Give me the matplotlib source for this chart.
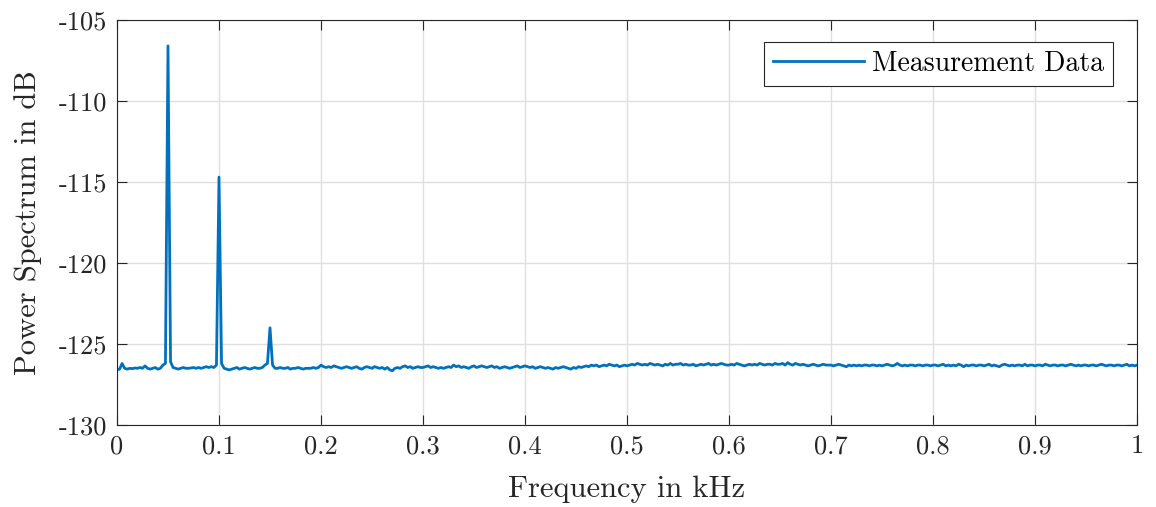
import numpy as np
import matplotlib
matplotlib.use("Agg")
import matplotlib.pyplot as plt

# Power spectrum samples (dB), 0 .. 1 kHz in steps of 0.0025 kHz
power_db = [
    -126.6, -126.55, -126.2, -126.5, -126.55, -126.5, -126.52, -126.48, -126.5, -126.45,
    -126.5, -126.35, -126.5, -126.55, -126.5, -126.45, -126.55, -126.5, -126.3, -126.2,
    -106.6, -126.1, -126.45, -126.5, -126.55, -126.5, -126.45, -126.5, -126.5, -126.48,
    -126.45, -126.5, -126.45, -126.5, -126.45, -126.4, -126.45, -126.4, -126.45, -126.3,
    -114.7, -126.2, -126.5, -126.55, -126.6, -126.55, -126.5, -126.45, -126.55, -126.5,
    -126.45, -126.5, -126.55, -126.5, -126.45, -126.5, -126.5, -126.45, -126.3, -126.2,
    -124.0, -126.3, -126.5, -126.5, -126.45, -126.5, -126.5, -126.45, -126.55, -126.5,
    -126.5, -126.45, -126.5, -126.55, -126.5, -126.5, -126.5, -126.45, -126.5, -126.45,
    -126.3, -126.4, -126.45, -126.4, -126.45, -126.35, -126.4, -126.45, -126.5, -126.45,
    -126.4, -126.45, -126.5, -126.45, -126.4, -126.5, -126.55, -126.45, -126.4, -126.45,
    -126.5, -126.4, -126.45, -126.5, -126.45, -126.55, -126.45, -126.6, -126.65, -126.5,
    -126.45, -126.5, -126.4, -126.35, -126.45, -126.4, -126.5, -126.45, -126.4, -126.45,
    -126.45, -126.4, -126.35, -126.45, -126.4, -126.45, -126.5, -126.45, -126.5, -126.45,
    -126.4, -126.45, -126.3, -126.4, -126.35, -126.45, -126.4, -126.45, -126.5, -126.4,
    -126.35, -126.45, -126.4, -126.35, -126.4, -126.45, -126.4, -126.35, -126.45, -126.4,
    -126.5, -126.45, -126.4, -126.45, -126.5, -126.45, -126.4, -126.35, -126.45, -126.4,
    -126.35, -126.4, -126.45, -126.4, -126.5, -126.45, -126.4, -126.45, -126.5, -126.45,
    -126.5, -126.55, -126.45, -126.5, -126.45, -126.4, -126.45, -126.5, -126.55, -126.45,
    -126.5, -126.4, -126.45, -126.4, -126.35, -126.4, -126.3, -126.35, -126.3, -126.4,
    -126.35, -126.3, -126.35, -126.25, -126.3, -126.35, -126.3, -126.4, -126.35, -126.3,
    -126.35, -126.3, -126.25, -126.3, -126.2, -126.25, -126.3, -126.25, -126.3, -126.2,
    -126.25, -126.3, -126.25, -126.3, -126.35, -126.25, -126.3, -126.2, -126.3, -126.25,
    -126.25, -126.2, -126.3, -126.25, -126.3, -126.3, -126.25, -126.35, -126.3, -126.25,
    -126.3, -126.25, -126.2, -126.3, -126.25, -126.3, -126.25, -126.2, -126.25, -126.3,
    -126.3, -126.25, -126.3, -126.2, -126.25, -126.3, -126.35, -126.3, -126.25, -126.3,
    -126.25, -126.3, -126.2, -126.25, -126.3, -126.25, -126.25, -126.3, -126.2, -126.25,
    -126.25, -126.2, -126.3, -126.15, -126.25, -126.3, -126.2, -126.25, -126.3, -126.25,
    -126.3, -126.35, -126.3, -126.25, -126.3, -126.35, -126.3, -126.25, -126.3, -126.3,
    -126.3, -126.35, -126.3, -126.25, -126.3, -126.35, -126.4, -126.3, -126.35, -126.3,
    -126.35, -126.3, -126.35, -126.3, -126.3, -126.35, -126.3, -126.3, -126.35, -126.3,
    -126.35, -126.3, -126.25, -126.3, -126.35, -126.3, -126.2, -126.3, -126.35, -126.3,
    -126.35, -126.3, -126.3, -126.35, -126.3, -126.3, -126.35, -126.3, -126.3, -126.35,
    -126.3, -126.3, -126.35, -126.3, -126.25, -126.35, -126.3, -126.35, -126.3, -126.35,
    -126.25, -126.3, -126.4, -126.3, -126.35, -126.3, -126.3, -126.35, -126.3, -126.3,
    -126.35, -126.3, -126.25, -126.35, -126.3, -126.35, -126.4, -126.3, -126.25, -126.3,
    -126.35, -126.3, -126.35, -126.3, -126.3, -126.35, -126.25, -126.35, -126.3, -126.3,
    -126.35, -126.3, -126.3, -126.35, -126.25, -126.3, -126.35, -126.3, -126.3, -126.35,
    -126.3, -126.3, -126.35, -126.3, -126.25, -126.3, -126.35, -126.3, -126.35, -126.3,
    -126.3, -126.35, -126.3, -126.3, -126.35, -126.3, -126.25, -126.3, -126.35, -126.3,
    -126.3, -126.35, -126.3, -126.3, -126.35, -126.3, -126.25, -126.35, -126.3, -126.35,
    -126.3,
]
freq_khz = np.linspace(0.0, 1.0, len(power_db))

x_ticks = [0, 0.1, 0.2, 0.3, 0.4, 0.5, 0.6, 0.7, 0.8, 0.9, 1]
x_labels = ["0", "0.1", "0.2", "0.3", "0.4", "0.5", "0.6", "0.7", "0.8", "0.9", "1"]
y_ticks = [-130, -125, -120, -115, -110, -105]
y_labels = ["-130", "-125", "-120", "-115", "-110", "-105"]

plt.rcParams["font.family"] = "cmr10"
plt.rcParams["axes.unicode_minus"] = False
plt.rcParams["mathtext.fontset"] = "cm"

fig = plt.figure(figsize=(11.56, 5.07), dpi=100)
ax = fig.add_axes([0.1012, 0.1617, 0.8824, 0.7989])

ax.plot(freq_khz, power_db, color="#0072BD", linewidth=2.0, label="Measurement Data")

ax.set_xlim(0, 1)
ax.set_ylim(-130, -105)
ax.set_xticks(x_ticks)
ax.set_xticklabels(x_labels)
ax.set_yticks(y_ticks)
ax.set_yticklabels(y_labels)

ax.grid(True, color="#dfdfdf", linewidth=1.0)
ax.set_axisbelow(True)
ax.tick_params(direction="in", length=7, width=0.8, colors="#262626",
               labelsize=19, top=True, right=True, pad=7)
for sp in ax.spines.values():
    sp.set_color("#262626")
    sp.set_linewidth(0.8)

ax.set_xlabel("Frequency in kHz", fontsize=22, color="#262626", labelpad=12)
ax.set_ylabel("Power Spectrum in dB", fontsize=22, color="#262626", labelpad=12)

leg = ax.legend(loc="upper right", fontsize=20, fancybox=False, framealpha=1,
                edgecolor="#262626", handlelength=3.3, handletextpad=0.28,
                borderpad=0.32, borderaxespad=0.0,
                bbox_to_anchor=(0.9765, 0.9457))
leg.get_frame().set_linewidth(0.8)

fig.savefig("out.png", dpi=100)
